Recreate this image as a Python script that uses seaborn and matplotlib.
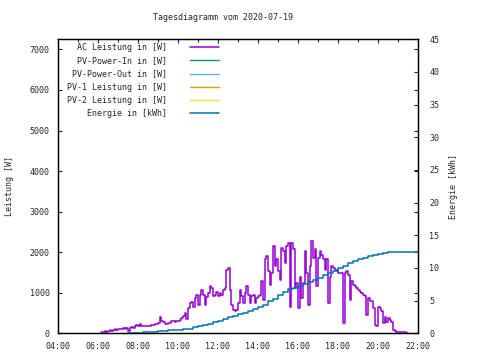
import pandas as pd
import matplotlib
matplotlib.use("Agg")
import matplotlib.pyplot as plt
import matplotlib.dates as mdates
import seaborn as sns

# AC Leistung in W, 5-Minuten-Werte ab 06:10
ac_start = "2020-07-19 06:10"
ac_power = [
    40, 40, 50, 30, 60, 70, 50, 90, 100, 90,            # 06:10-06:55
    100, 110, 100, 120, 110, 130, 60, 140, 150, 130, 170, 210,   # 07:00-07:55
    190, 230, 180, 190, 190, 180, 190, 190, 200, 200, 220, 240,  # 08:00-08:55
    260, 400, 310, 270, 240, 230, 260, 250, 300, 310, 290, 300,  # 09:00-09:55
    300, 340, 370, 430, 500, 350, 620, 740, 770, 660, 870, 950,  # 10:00-10:55
    700, 950, 1075, 950, 700, 900, 990, 1170, 1110, 910, 950, 1030,  # 11
    910, 990, 950, 1070, 1110, 1570, 1610, 1070, 700, 580, 540, 580,  # 12
    740, 1070, 910, 740, 990, 1160, 950, 740, 910, 950, 740, 870,  # 13
    910, 950, 1280, 830, 1820, 1900, 1530, 1200, 1490, 2150, 1650, 1820,  # 14
    1530, 1320, 2110, 2020, 1740, 2150, 2230, 660, 2230, 2070, 1110, 1240,  # 15
    620, 1400, 870, 1240, 2020, 1490, 700, 1650, 2270, 1860, 2070, 1160,  # 16
    1860, 2020, 1940, 1820, 1570, 1820, 740, 1400, 1650, 1610, 1570, 1570,  # 17
    1490, 1490, 1490, 250, 1490, 1530, 1450, 830, 1280, 1200, 1160, 1110,  # 18
    1070, 1030, 990, 950, 910, 450, 870, 790, 790, 620, 210, 170,  # 19
    660, 620, 540, 250, 410, 290, 370, 330, 290, 80, 65, 40,  # 20
    40, 30, 25, 30, 25, 15, 15,  # 21:00-21:30
]

# Energie in kWh, 15-Minuten-Werte ab 07:30
energy_start = "2020-07-19 07:30"
energy = [
    0.1, 0.1, 0.1, 0.15, 0.2, 0.25, 0.3, 0.4, 0.45, 0.5,
    0.55, 0.6, 0.7, 0.9, 1.1, 1.3, 1.5, 1.7, 1.9, 2.2,
    2.5, 2.7, 2.9, 3.15, 3.4, 3.7, 4.0, 4.4, 4.9, 5.3,
    5.8, 6.3, 6.8, 7.0, 7.2, 7.5, 7.8, 8.2, 8.5, 8.9,
    9.2, 9.6, 10.0, 10.3, 10.7, 11.0, 11.3, 11.55, 11.8, 12.0,
    12.2, 12.3, 12.4, 12.45, 12.45, 12.45, 12.45, 12.45, 12.45,
]

# keine Daten für diese Reihen
pv_power_in = []
pv_power_out = []
pv1_power = []
pv2_power = []

labels = ["AC Leistung in [W]", "PV-Power-In in [W]", "PV-Power-Out in [W]",
          "PV-1 Leistung in [W]", "PV-2 Leistung in [W]", "Energie in [kWh]"]
colors = ["#9400d3", "#009e73", "#56b4e9", "#e69f00", "#f0e442", "#0072b2"]

df_ac = pd.DataFrame({
    "Zeit": pd.date_range(ac_start, periods=len(ac_power), freq="5min"),
    "Leistung": ac_power,
})
df_en = pd.DataFrame({
    "Zeit": pd.date_range(energy_start, periods=len(energy), freq="15min"),
    "Energie": energy,
})

sns.set_style("white")
plt.rcParams["font.family"] = ["DejaVu Sans Mono"]
plt.rcParams["font.size"] = 6

fig = plt.figure(figsize=(4.8, 3.6), dpi=100)
ax = fig.add_axes([58 / 480, 1 - 333.3 / 360, 360 / 480, 294 / 360])
ax2 = ax.twinx()

sns.lineplot(data=df_ac, x="Zeit", y="Leistung", ax=ax, color=colors[0],
             lw=1.1, drawstyle="steps-post", estimator=None, legend=False,
             label=labels[0])
for vals, lab, col in zip([pv_power_in, pv_power_out, pv1_power, pv2_power],
                          labels[1:5], colors[1:5]):
    ax.plot(pd.to_datetime(pd.Series([], dtype="object")), vals, color=col, lw=1, label=lab)

sns.lineplot(data=df_en, x="Zeit", y="Energie", ax=ax2, color=colors[5],
             lw=1.1, drawstyle="steps-post", estimator=None, legend=False,
             label=labels[5])

ax.set_xlim(pd.Timestamp("2020-07-19 04:00"), pd.Timestamp("2020-07-19 22:00"))
ax.set_ylim(0, 7250)
ax2.set_ylim(0, 45)
ax.set_yticks(range(0, 7001, 1000))
ax2.set_yticks(range(0, 46, 5))

ax.xaxis.set_major_locator(mdates.HourLocator(byhour=range(0, 24, 2)))
ax.xaxis.set_minor_locator(mdates.HourLocator())
ax.xaxis.set_major_formatter(mdates.DateFormatter("%H:%M"))

ax.tick_params(axis="both", which="major", direction="in", length=3, width=0.8,
               top=True, right=True, labelsize=6, pad=6)
ax.tick_params(axis="x", which="minor", direction="in", length=1.8, width=0.8,
               top=True)
ax2.tick_params(axis="y", direction="in", length=3, width=0.8, labelsize=6, pad=8)

for a in (ax, ax2):
    for s in a.spines.values():
        s.set_color("black")
        s.set_linewidth(0.9)

ax.set_xlabel("")
ax.set_ylabel("Leistung [W]", fontsize=6)
ax2.set_ylabel("Energie [kWh]", fontsize=6)
ax.yaxis.set_label_coords(-0.122, 0.5)
ax2.yaxis.set_label_coords(1.086, 0.5)

fig.text(223 / 480, 1 - 18 / 360, "Tagesdiagramm vom 2020-07-19",
         ha="center", va="center", fontsize=6)

h1, l1 = ax.get_legend_handles_labels()
h2, l2 = ax2.get_legend_handles_labels()
ax2.legend(h1 + h2, l1 + l2, loc="upper left", bbox_to_anchor=(0.025, 0.987),
           frameon=False, markerfirst=False, fontsize=6, handlelength=3.4,
           handletextpad=2.8, labelspacing=0.5, borderpad=0, borderaxespad=0)

fig.savefig("out.png", dpi=100)
